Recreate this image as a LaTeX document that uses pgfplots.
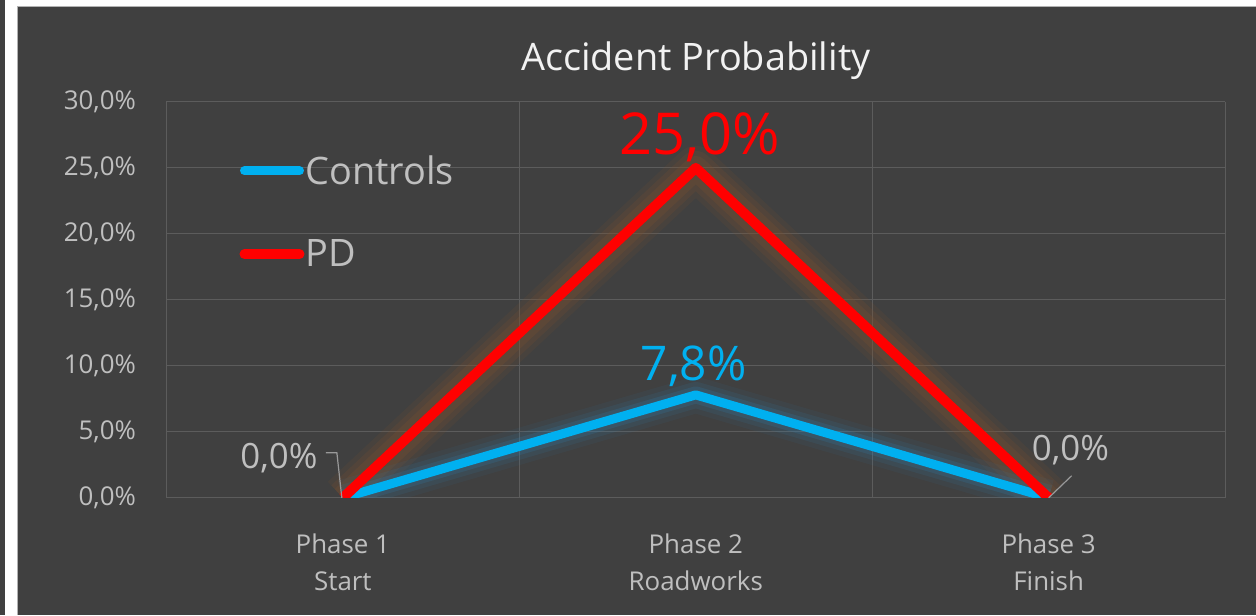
\documentclass[border=0pt]{standalone}
\usepackage{pgfplots}
\pgfplotsset{compat=1.18}
\usepackage{fontspec}
\setmainfont{Open Sans}
\definecolor{bg}{HTML}{404040}
\definecolor{gridc}{HTML}{5C5C5C}
\definecolor{txt}{HTML}{BFBFBF}
\definecolor{ttl}{HTML}{F2F2F2}
\definecolor{ctrl}{HTML}{00B0F0}
\definecolor{pd}{HTML}{FF0000}
\definecolor{glowo}{HTML}{7A5030}
\definecolor{glowb}{HTML}{2F7FB0}
\begin{document}
\begin{tikzpicture}[x=1bp,y=1bp]
\fill[bg] (0,0) rectangle (1256,615);
\fill[white] (5,0) rectangle (17,615);
\fill[white] (17,609) rectangle (1256,615);
\draw[gray!60, line width=0.8bp] (17.4,0) -- (17.4,608.6) -- (1256,608.6);
\begin{axis}[
 at={(166.5bp,117bp)}, anchor=south west,
 scale only axis, width=1059bp, height=396bp,
 xmin=-0.5, xmax=2.5, ymin=0, ymax=30,
 axis line style={draw=none}, tick style={draw=none},
 xtick={0,1,2},
 xticklabels={{Phase 1\\Start},{Phase 2\\Roadworks},{Phase 3\\Finish}},
 minor xtick={-0.5,0.5,1.5,2.5},
 ytick={0,5,...,30},
 ymajorgrids, xminorgrids,
 major grid style={gridc, line width=1bp},
 minor grid style={gridc, line width=1bp},
 /pgf/number format/assume math mode=true,
 yticklabel={\pgfmathprintnumber[fixed,fixed zerofill,precision=1,use comma]{\tick}\%},
 yticklabel style={font=\fontsize{26}{30}\selectfont, text=txt, xshift=-27bp},
 xticklabel style={font=\fontsize{26}{38}\selectfont, text=txt, align=center, yshift=-32bp},
 legend style={at={(0.066,0.875)}, anchor=north west, draw=none, fill=none,
   text=txt, font=\fontsize{38}{46}\selectfont, row sep=50bp,
   nodes={inner xsep=1bp}},
 legend cell align=left,
 legend image code/.code={\draw[#1, line cap=round] (0bp,0bp) -- (55bp,0bp);},
]
% glow layers
\addplot[glowo, line width=44bp, opacity=0.15, forget plot, line join=round] coordinates {(0,0) (1,25) (2,0)};
\addplot[glowo, line width=34bp, opacity=0.20, forget plot, line join=round] coordinates {(0,0) (1,25) (2,0)};
\addplot[glowo, line width=24bp, opacity=0.25, forget plot, line join=round] coordinates {(0,0) (1,25) (2,0)};
\addplot[glowb, line width=36bp, opacity=0.08, forget plot, line join=round] coordinates {(0,0) (1,7.8) (2,0)};
\addplot[glowb, line width=26bp, opacity=0.12, forget plot, line join=round] coordinates {(0,0) (1,7.8) (2,0)};
\addplot[glowb, line width=17bp, opacity=0.20, forget plot, line join=round] coordinates {(0,0) (1,7.8) (2,0)};
% series
\addplot[ctrl, line width=9bp, line join=round] coordinates {(0,0) (1,7.8) (2,0)};
\addlegendentry{Controls}
\addplot[pd, line width=10bp, line join=round] coordinates {(0,0) (1,25) (2,0)};
\addlegendentry{PD}
% data labels
\node[text=pd, font=\fontsize{58}{64}\selectfont] at (axis cs:1.011,27.35) {25,0\%};
\node[text=ctrl, font=\fontsize{48}{54}\selectfont] at (axis cs:0.994,10.0) {7,8\%};
\node[text=txt, font=\fontsize{35}{40}\selectfont] at (axis cs:-0.181,3.03) {0,0\%};
\node[text=txt, font=\fontsize{35}{40}\selectfont] at (axis cs:2.062,3.64) {0,0\%};
\draw[gray!80, line width=1.2bp] (axis cs:-0.048,3.41) -- (axis cs:-0.017,3.41) -- (axis cs:-0.003,0);
\draw[gray!80, line width=1.2bp] (axis cs:2.0,0) -- (axis cs:2.065,1.67);
\end{axis}
\node[text=ttl, font=\fontsize{38}{44}\selectfont] at (696,554) {Accident Probability};
\end{tikzpicture}
\end{document}
